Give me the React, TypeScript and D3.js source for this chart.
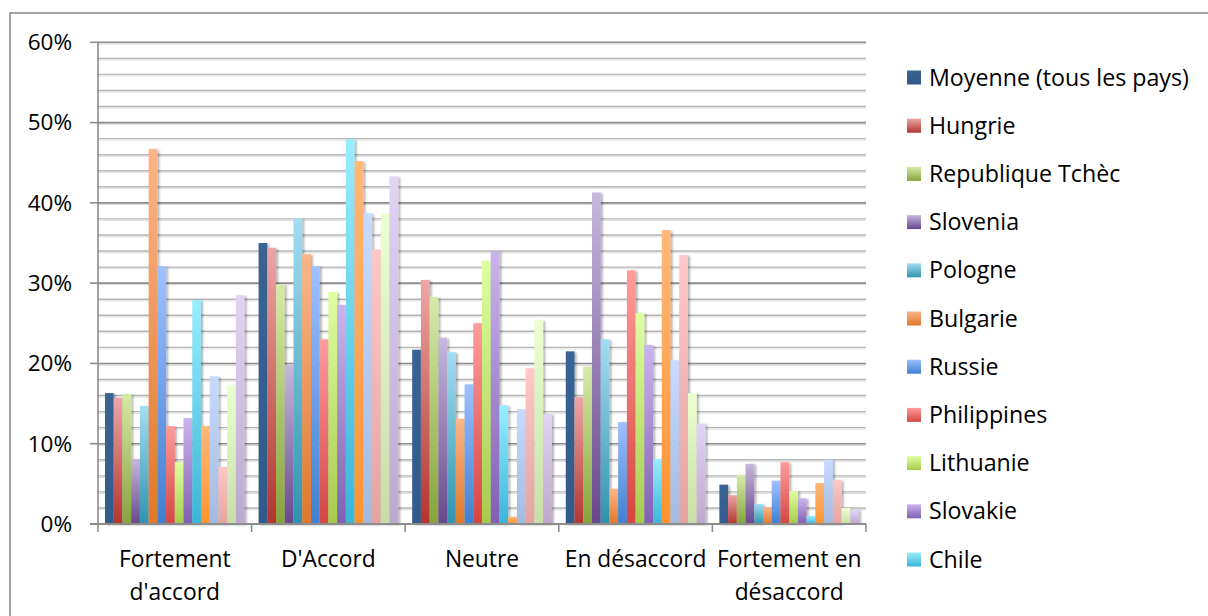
import React from 'react';
import * as d3 from 'd3';

const categories = ["Fortement d'accord", "D'Accord", "Neutre", "En désaccord", "Fortement en désaccord"];
const categoryLines = [["Fortement", "d'accord"], ["D'Accord"], ["Neutre"], ["En désaccord"], ["Fortement en", "désaccord"]];

const seriesNames = [
  "Moyenne (tous les pays)", "Hungrie", "Republique Tchèc", "Slovenia", "Pologne", "Bulgarie",
  "Russie", "Philippines", "Lithuanie", "Slovakie", "Chile",
  "Pays 12", "Pays 13", "Pays 14", "Pays 15", "Pays 16",
];
const legendCount = 11; // the legend in the reference is cut off after "Chile"

const moyenne = [16.3, 35.0, 21.7, 21.5, 4.9];
const hungrie = [15.7, 34.4, 30.4, 15.8, 3.6];
const tcheque = [16.2, 29.8, 28.3, 19.6, 6.1];
const slovenia = [8.1, 19.8, 23.2, 41.3, 7.5];
const pologne = [14.7, 38.1, 21.4, 23.0, 2.5];
const bulgarie = [46.7, 33.6, 13.1, 4.4, 2.1];
const russie = [32.1, 32.1, 17.4, 12.7, 5.4];
const philippines = [12.2, 23.0, 25.0, 31.6, 7.7];
const lithuanie = [7.7, 28.9, 32.8, 26.3, 4.1];
const slovakie = [13.2, 27.3, 34.0, 22.3, 3.2];
const chile = [27.9, 47.9, 14.8, 8.1, 1.0];
const pays12 = [12.2, 45.2, 0.9, 36.6, 5.1];
const pays13 = [18.4, 38.7, 14.3, 20.4, 8.0];
const pays14 = [7.1, 34.2, 19.4, 33.5, 5.5];
const pays15 = [17.3, 38.7, 25.4, 16.3, 2.0];
const pays16 = [28.5, 43.3, 13.7, 12.5, 1.8];

const seriesValues = [moyenne, hungrie, tcheque, slovenia, pologne, bulgarie, russie, philippines,
  lithuanie, slovakie, chile, pays12, pays13, pays14, pays15, pays16];

const yTicks = [0, 10, 20, 30, 40, 50, 60];
const yMinorTicks = d3.range(0, 61, 2);

const colorTop = ["#3A6393", "#EDA6A5", "#D6EAA8", "#C6B8DC", "#A4DDF2", "#FCB588", "#9EC0FF", "#FF9C9B",
  "#DEFFA0", "#CAB4EE", "#99EDFE", "#FFB879", "#C7DAFF", "#FFC7C7", "#EBFFD0", "#E1D3F4"];
const colorBottom = ["#315A8A", "#B2352F", "#85A33C", "#67488D", "#2E93AE", "#E0782A", "#3F80D0", "#D44641",
  "#A6CB4C", "#8060B1", "#3BB5D7", "#FF932F", "#A3BADF", "#E3A4A1", "#C9DDA8", "#BCA8CE"];

const FONT = "'Open Sans', sans-serif";

export default function App() {
  const W = 1208, H = 616;
  const left = 98, right = 866, top = 42.3, bottom = 524;

  const x0 = d3.scaleBand<string>().domain(categories).range([left, right]).paddingInner(0).paddingOuter(0);
  const x1 = d3.scaleBand<string>().domain(seriesNames).range([0, x0.bandwidth()]).paddingInner(0).paddingOuter(0.8);
  const y = d3.scaleLinear().domain([0, 60]).range([bottom, top]);

  const minor = yMinorTicks.filter(t => t % 10 !== 0);

  return (
    <svg width={W} height={H} style={{ position: 'absolute', left: 0, top: 0, background: '#fff' }}>
      <defs>
        {seriesNames.map((n, i) => (
          <linearGradient key={n} id={`g${i}`} x1="0" y1="0" x2="0" y2="1">
            <stop offset="0%" stopColor={colorTop[i]} />
            <stop offset="100%" stopColor={colorBottom[i]} />
          </linearGradient>
        ))}
        <filter id="shadow" x="-30%" y="-5%" width="180%" height="110%">
          <feDropShadow dx="2" dy="1" stdDeviation="1.2" floodColor="#000" floodOpacity="0.3" />
        </filter>
      </defs>
      <rect x={10} y={13} width={1240} height={700} fill="#fff" stroke="#868686" strokeWidth={1.5} />

      {/* minor gridlines */}
      {minor.map(t => (
        <g key={`m${t}`}>
          <line x1={left} x2={right} y1={y(t) + 1.6} y2={y(t) + 1.6} stroke="#E2E2E2" strokeWidth={1.2} />
          <line x1={left} x2={right} y1={y(t)} y2={y(t)} stroke="#B4B4B4" strokeWidth={1.4} />
        </g>
      ))}
      {/* major gridlines */}
      {yTicks.filter(t => t > 0).map(t => (
        <g key={`M${t}`}>
          <line x1={left} x2={right} y1={y(t) + 1.6} y2={y(t) + 1.6} stroke="#DADADA" strokeWidth={1.2} />
          <line x1={left} x2={right} y1={y(t)} y2={y(t)} stroke="#8C8C8C" strokeWidth={1.6} />
          <line x1={left - 8} x2={left} y1={y(t)} y2={y(t)} stroke="#8C8C8C" strokeWidth={1.6} />
        </g>
      ))}

      {/* bars */}
      {categories.map((c, ci) => (
        <g key={c} transform={`translate(${x0(c)},0)`}>
          {seriesNames.map((s, si) => {
            const v = seriesValues[si][ci];
            return (
              <rect key={s} x={x1(s)} y={y(v)} width={x1.bandwidth()} height={y(0) - y(v)}
                fill={`url(#g${si})`} filter="url(#shadow)" />
            );
          })}
        </g>
      ))}

      {/* axes */}
      <line x1={left} x2={left} y1={top} y2={bottom} stroke="#8C8C8C" strokeWidth={1.6} />
      <line x1={left - 8} x2={right} y1={bottom} y2={bottom} stroke="#8C8C8C" strokeWidth={2} />
      {d3.range(categories.length + 1).map(i => {
        const xx = left + i * x0.step();
        return <line key={i} x1={xx} x2={xx} y1={bottom} y2={bottom + 8} stroke="#8C8C8C" strokeWidth={1.6} />;
      })}

      {/* y tick labels */}
      {yTicks.map(t => (
        <text key={t} x={72} y={y(t)} dy="0.35em" textAnchor="end" fontFamily={FONT} fontSize={22.5} fill="#000">
          {`${t}%`}
        </text>
      ))}

      {/* category labels */}
      {categories.map((c, ci) => (
        <text key={c} x={(x0(c) as number) + x0.bandwidth() / 2} y={567} textAnchor="middle"
          fontFamily={FONT} fontSize={22.8} fill="#000">
          {categoryLines[ci].map((ln, li) => (
            <tspan key={li} x={(x0(c) as number) + x0.bandwidth() / 2} y={567 + li * 33}>{ln}</tspan>
          ))}
        </text>
      ))}

      {/* legend */}
      {seriesNames.slice(0, legendCount).map((s, i) => {
        const cy = 77.5 + i * 48.2;
        return (
          <g key={s}>
            <rect x={907} y={cy - 7} width={14} height={14} fill={`url(#g${i})`} />
            <text x={929} y={cy} dy="0.35em" fontFamily={FONT} fontSize={23.2} fill="#000">{s}</text>
          </g>
        );
      })}
    </svg>
  );
}
